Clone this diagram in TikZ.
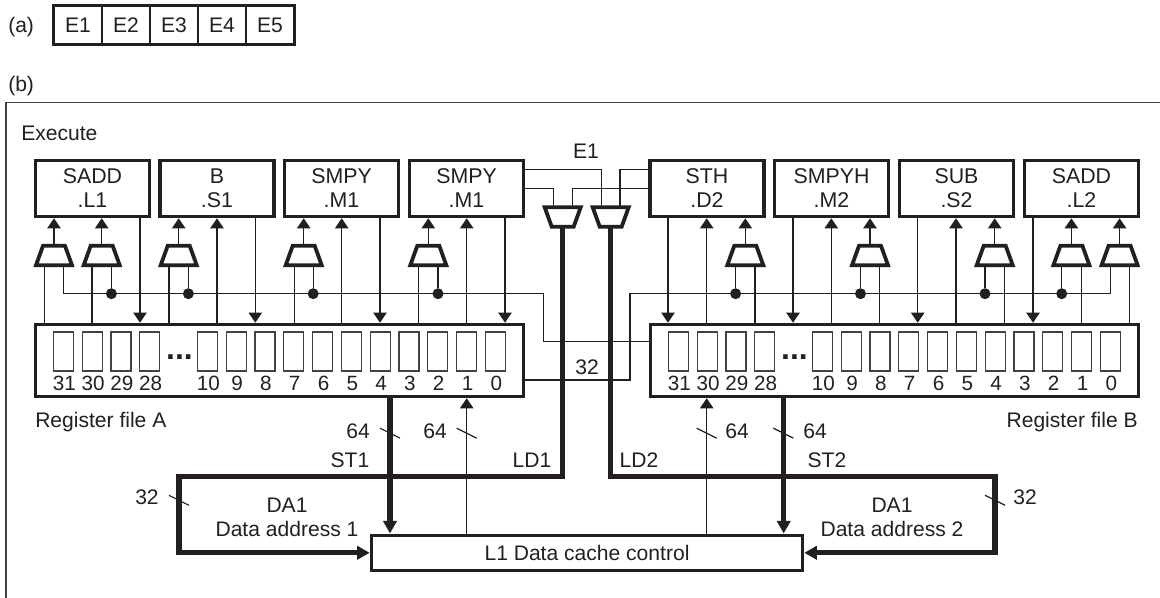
\documentclass[tikz,border=0pt]{standalone}
\usepackage{fontspec}
\setmainfont{Liberation Sans}
\usetikzlibrary{arrows.meta}
\definecolor{ink}{RGB}{35,31,32}
\def\u{0.75}
\tikzset{
  fubox/.style={draw=ink,line width=3.6*\u pt,minimum width=114*\u pt,minimum height=56*\u pt,inner sep=0pt,align=center,text=ink,font=\fontsize{16}{18}\selectfont},
  rfbox/.style={draw=ink,line width=3.6*\u pt,minimum width=488*\u pt,minimum height=72*\u pt,inner sep=0pt},
  regbox/.style={draw=ink!85,line width=1.2*\u pt,minimum width=20*\u pt,minimum height=39*\u pt,inner sep=0pt},
  regnum/.style={text=ink,inner sep=0pt,font=\fontsize{15.5}{18}\selectfont},
  lab/.style={text=ink,inner sep=0pt,anchor=base,font=\fontsize{15.8}{18}\selectfont},
  cell/.style={draw=ink,line width=1.6*\u pt,minimum width=48*\u pt,minimum height=38*\u pt,inner sep=0pt,text=ink,font=\fontsize{15.8}{18}\selectfont},
  muxnode/.style={minimum width=36*\u pt,minimum height=19.4*\u pt,inner sep=0pt,outer sep=0pt},
  muxline/.style={draw=ink,line width=3.8*\u pt},
  junction/.style={circle,fill=ink,inner sep=0pt,minimum size=11*\u pt},
  sig/.style={draw=ink,line width=1.2*\u pt},
  sigin/.style={sig,-{Triangle[length=7.5pt,width=10pt]}},
  bus/.style={draw=ink,line width=5.2*\u pt},
  busin/.style={bus,-{Triangle[length=9.5pt,width=10pt]}},
}
\begin{document}
\begin{tikzpicture}[x=0.75pt,y=-0.75pt]
  \useasboundingbox (0,0) rectangle (1160,598);
  % outer frame, open at the right and at the bottom
  \draw[draw=ink!85,line width=1.8*\u pt] (6,598) |- (1160,102.5);
  % part a
  \node[lab,anchor=base west] (parta) at (8,33) {(a)};
  \foreach \i/\x in {1/78,2/126,3/174,4/222,5/270} {
    \node[cell] (e\i) at (\x,25) {E\i};
  }
  \draw[draw=ink,line width=2.6*\u pt] (e1.north west) rectangle (e5.south east);
  \node[lab,anchor=base west] (partb) at (8,92) {(b)};
  \node[lab,anchor=base west] (execute) at (21,141) {Execute};
  % functional units
  \foreach \n/\x/\a/\b in {fuLa/92.5/SADD/.L1,fuSa/217/B/.S1,fuMa/341.5/SMPY/.M1,fuMb/466.5/SMPY/.M1,fuDb/707/STH/.D2,fuMc/831.5/SMPYH/.M2,fuSb/956.5/SUB/.S2,fuLb/1081.5/SADD/.L2} {
    \node[fubox] (\n) at (\x,188.5) {\a\\\b};
  }
  % register files
  \node[rfbox] (rfA) at (279.5,360.5) {};
  \node[rfbox] (rfB) at (894.5,360.5) {};
  \foreach \lab/\k in {31/0,30/1,29/2,28/3,10/5,9/6,8/7,7/8,6/9,5/10,4/11,3/12,2/13,1/14,0/15} {
    \node[regbox] (ra\lab) at ({63.3+28.8*\k},351.5) {};
    \node[regbox] (rb\lab) at ({678.3+28.8*\k},351.5) {};
    \node[regnum] (na\lab) at ({64.3+28.8*\k},383.5) {\lab};
    \node[regnum] (nb\lab) at ({679.3+28.8*\k},383.5) {\lab};
  }
  \node[lab,font=\fontsize{24}{24}\bfseries] (dotsa) at (179.5,360) {...};
  \node[lab,font=\fontsize{24}{24}\bfseries] (dotsb) at (794.5,360) {...};
  \node[lab,anchor=base west] (nameA) at (35,427) {Register file A};
  \node[lab,anchor=base east] (nameB) at (1138,427) {Register file B};
  % muxes in front of the units
  \foreach \n/\x/\fu/\d in {m1/54/fuLa/9.5,m2/101.7/fuLa/9.7,m3/178.7/fuSa/9.7,m4/303.7/fuMa/9.5,m5/428.3/fuMb/9.7,m6/745.3/fuDb/9.7,m7/870/fuMc/9.5,m8/994.7/fuSb/9.7,m9/1071.4/fuLb/9.7,m10/1119.6/fuLb/9.5} {
    \node[muxnode] (\n) at (\x,255.5) {};
    \draw[muxline] (\x-18,265.2) -- (\x+18,265.2) -- (\x+11,245.8) -- (\x-11,245.8) -- cycle;
    \draw[sigin] (\n.north) -- (\n.north |- \fu.south);
    \coordinate (\n l) at (\x-\d,265);
    \coordinate (\n r) at (\x+\d,265);
  }
  % mux inputs that come straight from the register files
  \foreach \n/\rf in {m1l/rfA,m2l/rfA,m3l/rfA,m4l/rfA,m5l/rfA} {
    \draw[sig] (\n) -- (\n |- \rf.north);
  }
  \foreach \n/\rf in {m6r/rfB,m7r/rfB,m8r/rfB,m9r/rfB,m10r/rfB} {
    \draw[sig] (\n) -- (\n |- \rf.north);
  }
  % forwarding lines
  \coordinate (busa) at (543.3,293.7);
  \coordinate (inB) at (649,341.7);
  \coordinate (busb) at (630,293.7);
  \coordinate (outA) at (525,380);
  \draw[sig] (m1r) |- (busa) |- (inB);
  \draw[sig] (m10l) |- (busb) |- (outA);
  \foreach \n in {m2r,m3r,m4r,m5r} {
    \node[junction] (j\n) at (\n |- busa) {};
    \draw[sig] (\n) -- (j\n);
  }
  \foreach \n in {m6l,m7l,m8l,m9l} {
    \node[junction] (j\n) at (\n |- busb) {};
    \draw[sig] (\n) -- (j\n);
  }
  % unit to register file and back
  \foreach \x/\fu/\rf in {140/fuLa/rfA,255.3/fuSa/rfA,380/fuMa/rfA,505/fuMb/rfA,668/fuDb/rfB,793/fuMc/rfB,917.7/fuSb/rfB,1033/fuLb/rfB} {
    \draw[sigin] (\x,0 |- \fu.south) -- (\x,0 |- \rf.north);
  }
  \foreach \x/\fu/\rf in {217/fuSa/rfA,341.7/fuMa/rfA,466.7/fuMb/rfA,706.7/fuDb/rfB,831.3/fuMc/rfB,956/fuSb/rfB} {
    \draw[sigin] (\x,0 |- \rf.north) -- (\x,0 |- \fu.south);
  }
  % E1 address muxes
  \foreach \n/\x in {mL/562.7,mR/610.7} {
    \node[muxnode] (\n) at (\x,217) {};
    \draw[muxline] (\x-18,207.3) -- (\x+18,207.3) -- (\x+11,226.7) -- (\x-11,226.7) -- cycle;
  }
  \coordinate (mLl) at (553.3,207.5);
  \coordinate (mLr) at (572.3,207.5);
  \coordinate (mRl) at (601.3,207.5);
  \coordinate (mRr) at (620,207.5);
  \coordinate (upa) at (525,169.3);
  \coordinate (upb) at (649,169.3);
  \coordinate (loa) at (525,188.3);
  \coordinate (lob) at (649,188.3);
  \draw[sig] (upa) -| (mRl);
  \draw[sig] (loa) -| (mLl);
  \draw[sig] (upb) -| (mRr);
  \draw[sig] (lob) -| (mLr);
  \node[lab] (eone) at (586,159) {E1};
  \node[lab] (bw) at (587,375) {32};
  % cache and the lines to it
  \node[draw=ink,line width=3.6*\u pt,minimum width=431*\u pt,minimum height=35*\u pt,inner sep=0pt,text=ink,font=\fontsize{15.8}{18}\selectfont] (cache) at (587,552.8) {L1 Data cache control};
  \coordinate (stA) at (390,0);
  \coordinate (stB) at (783.7,0);
  \coordinate (cornerA) at (179,476.7);
  \coordinate (cornerB) at (995,476.7);
  \draw[sigin] (466.7,0 |- cache.north) -- (466.7,0 |- rfA.south);
  \draw[sigin] (706.7,0 |- cache.north) -- (706.7,0 |- rfB.south);
  \draw[busin] (mL.south) |- (cornerA) |- (cache.west);
  \draw[busin] (mR.south) |- (cornerB) |- (cache.east);
  \draw[busin] (stA |- rfA.south) -- (stA |- cache.north);
  \draw[busin] (stB |- rfB.south) -- (stB |- cache.north);
  % width ticks
  \foreach \x/\y in {390/433.2,466.7/433.2,706.7/433.2,783.3/433.2,179/500.3,995/500.3} {
    \draw[sig] (\x-10,\y-5) -- (\x+10,\y+5);
  }
  \foreach \n/\x/\y/\t in {wa/358/438/64,wb/435/438/64,wc/737/438/64,wd/815/438/64,we/147/504/32,wf/1025/504/32,sta/350/467/ST1,lda/532/467/LD1,ldb/639/467/LD2,stb/827/467/ST2,daa/287/512/DA1,dab/892/512/DA1} {
    \node[lab] (\n) at (\x,\y) {\t};
  }
  \node[lab] (dac) at (287,536) {Data address 1};
  \node[lab] (dad) at (892,536) {Data address 2};
\end{tikzpicture}
\end{document}
